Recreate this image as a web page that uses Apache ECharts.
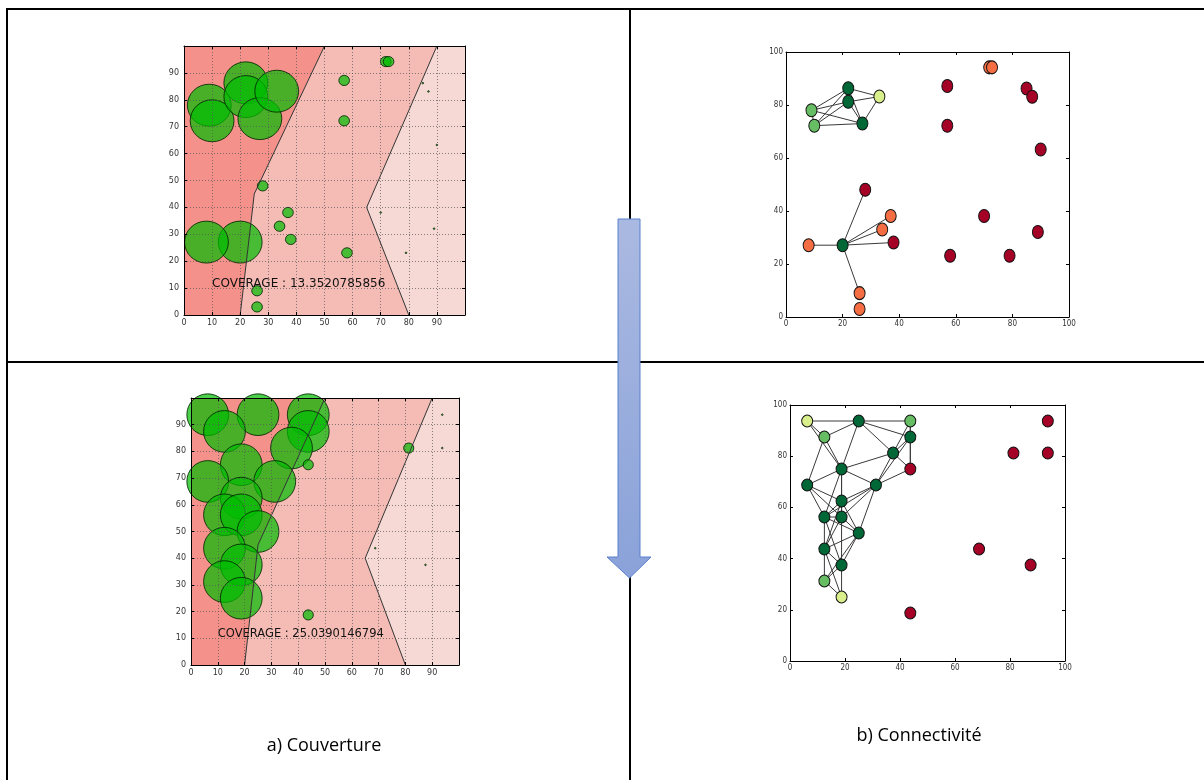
<!DOCTYPE html>
<html><head><meta charset="utf-8">
<script src="https://cdn.jsdelivr.net/npm/echarts@6/dist/echarts.min.js"></script>
<style>html,body{margin:0;padding:0;background:#fff}#c{width:1204px;height:780px}</style>
</head><body><div id="c"></div><script>
// ---------- DATA ----------
// Top scenario: node positions (shared by coverage and connectivity plots)
const topNodes = [[9,78],[10,72.2],[22,86.3],[22,81.2],[27,73],[33,83.2],[20,27.1],[8,27.1],
  [28,48],[37,38.1],[34,33],[38,28.1],[26,9],[26,3],[71.8,94.2],[72.8,94.2],[57,87.2],[57,72.2],
  [85,86.2],[87,83.1],[90,63.2],[70,38.1],[89,32.1],[58,23.1],[79,23.1]];
const topLevels = ['lg','lg','dg','dg','dg','yg','dg','or','rd','or','or','rd','or','or','or','or',
  'rd','rd','rd','rd','rd','rd','rd','rd','rd'];
const topRadius = [7.8,7.8,7.8,7.8,7.8,7.8,7.8,7.8,1.9,1.9,1.9,1.9,1.9,1.9,1.9,1.9,1.9,1.9,
  0.3,0.3,0.3,0.3,0.3,1.9,0.3];
const topEdges = [[0,1],[0,2],[0,3],[0,4],[1,2],[1,3],[1,4],[2,3],[2,4],[2,5],[3,4],[3,5],[4,5],
  [6,7],[6,8],[6,9],[6,10],[6,11],[6,12]];
const topCoverage = 'COVERAGE : 13.3520785856';

// Bottom scenario
const botNodes = [[6.25,93.75],[25,93.75],[43.75,93.75],[12.5,87.5],[43.75,87.5],[37.5,81.25],
  [43.75,75],[18.75,75],[6.25,68.75],[31.25,68.75],[18.75,62.5],[12.5,56.25],[18.75,56.25],
  [25,50],[12.5,43.75],[18.75,37.5],[12.5,31.25],[18.75,25],[43.75,18.75],[68.75,43.75],
  [87.5,37.5],[81.25,81.25],[93.75,93.75],[93.75,81.25]];
const botLevels = ['yg','dg','lg','lg','dg','dg','rd','dg','dg','dg','dg','dg','dg','dg','dg','dg',
  'lg','yg','rd','rd','rd','rd','rd','rd'];
const botRadius = [7.8,7.8,7.8,7.8,7.8,7.8,1.9,7.8,7.8,7.8,7.8,7.8,7.8,7.8,7.8,7.8,7.8,7.8,
  1.9,0.3,0.3,1.9,0.3,0.3];
const botEdges = [[0,1],[0,3],[0,7],[1,2],[1,3],[1,4],[1,5],[1,7],[2,4],[2,5],[2,6],[3,7],[3,8],
  [4,5],[4,6],[4,9],[5,6],[5,7],[5,9],[6,9],[7,8],[7,9],[7,10],[7,11],[7,12],[8,10],[8,11],[8,12],
  [9,10],[9,11],[9,12],[9,13],[10,11],[10,12],[10,13],[10,14],[11,12],[11,13],[11,14],[11,15],
  [12,13],[12,14],[12,15],[13,14],[13,15],[13,16],[14,15],[14,16],[14,17],[15,16],[15,17],[16,17]];
const botCoverage = 'COVERAGE : 25.0390146794';

// Coverage zone boundaries (shared)
const boundaryA = [[20,0],[25,45],[50,100]];
const boundaryB = [[80,0],[65,40],[90,100]];
const coverageLabelAt = [10, 11.6];

const xTicksCoverage = 10, xTicksConn = 20;
const captions = ['a) Couverture', 'b) Connectivité'];

// ---------- STYLE ----------
const levelColors = {dg:'#006837', lg:'#66bd63', yg:'#d9ef8b', or:'#f46d43', rd:'#a50026'};
const regionColors = ['#f4918a', '#f5bcb6', '#f6d8d5'];
const regions = [
  [[0,0]].concat(boundaryA, [[0,100]]),
  boundaryA.concat(boundaryB.slice().reverse()),
  boundaryB.concat([[100,100],[100,0]])
];

const grids = [
  {left:184, top:46, width:281, height:269},
  {left:786, top:52, width:283, height:265},
  {left:191, top:398, width:268, height:267},
  {left:790, top:405, width:275, height:256}
];

const xAxes = [], yAxes = [];
function addAxes(g, step, cov, fam) {
  const lab = {fontSize:8, color:'#333', fontFamily:fam, showMaxLabel:!cov};
  const common = {gridIndex:g, type:'value', min:0, max:100, interval:step, z: cov ? 5 : 0,
    axisLine:{show:true, onZero:false, lineStyle:{color:'#000', width:1}},
    axisTick:{show:true, inside:true, length:3, lineStyle:{color:'#000', width:1}}};
  const split = {show:cov, lineStyle:{color:'#555', type:[1,2], width:0.7}};
  xAxes.push(Object.assign({}, common, {position:'bottom', splitLine:split,
    axisLabel:Object.assign({margin: cov ? 4 : 3}, lab)}));
  xAxes.push(Object.assign({}, common, {position:'top', splitLine:{show:false}, axisLabel:{show:false}}));
  yAxes.push(Object.assign({}, common, {position:'left', splitLine:split,
    axisLabel:Object.assign({margin: cov ? 5 : 3}, lab)}));
  yAxes.push(Object.assign({}, common, {position:'right', splitLine:{show:false}, axisLabel:{show:false}}));
}
addAxes(0, xTicksCoverage, true, 'DejaVu Sans');
addAxes(1, xTicksConn, false, 'DejaVu Sans Condensed');
addAxes(2, xTicksCoverage, true, 'DejaVu Sans');
addAxes(3, xTicksConn, false, 'DejaVu Sans Condensed');

const series = [];
function coverageSeries(g, nodes, radius, text, fontSize) {
  const ai = 2*g;
  series.push({type:'custom', xAxisIndex:ai, yAxisIndex:ai, z:1, silent:true,
    data: regionColors.map((c,i)=>[i,0]),
    renderItem:(params, api)=>({type:'polygon',
      shape:{points: regions[params.dataIndex].map(p=>api.coord(p))},
      style:{fill: regionColors[params.dataIndex]}})});
  [boundaryA, boundaryB].forEach(b=>series.push({type:'line', xAxisIndex:ai, yAxisIndex:ai, z:3,
    data:b, showSymbol:false, silent:true, lineStyle:{color:'#333', width:1}}));
  series.push({type:'custom', xAxisIndex:ai, yAxisIndex:ai, z:2, silent:true,
    data: nodes.map((p,i)=>[p[0],p[1],radius[i]]),
    renderItem:(params, api)=>{
      const c = api.coord([api.value(0), api.value(1)]);
      const s = api.size([api.value(2), api.value(2)]);
      return {type:'ellipse', shape:{cx:c[0], cy:c[1], rx:s[0], ry:s[1]},
        style:{fill:'rgba(0,188,0,0.7)', stroke:'rgba(0,30,0,0.8)', lineWidth:1}};
    }});
  series.push({type:'custom', xAxisIndex:ai, yAxisIndex:ai, z:4, silent:true,
    data:[coverageLabelAt],
    renderItem:(params, api)=>{
      const c = api.coord([api.value(0), api.value(1)]);
      return {type:'text', x:c[0], y:c[1], style:{text:text, fill:'#111',
        font: fontSize + 'px "DejaVu Sans"', align:'left', verticalAlign:'middle',
        textAlign:'left', textVerticalAlign:'middle'}};
    }});
}
function connectivitySeries(g, nodes, levels, edges, size) {
  const ai = 2*g;
  series.push({type:'custom', xAxisIndex:ai, yAxisIndex:ai, z:2, silent:true,
    data: edges.map(e=>[nodes[e[0]][0], nodes[e[0]][1], nodes[e[1]][0], nodes[e[1]][1]]),
    renderItem:(params, api)=>{
      const a = api.coord([api.value(0), api.value(1)]);
      const b = api.coord([api.value(2), api.value(3)]);
      return {type:'line', shape:{x1:a[0], y1:a[1], x2:b[0], y2:b[1]},
        style:{stroke:'#3a3a3a', lineWidth:1}};
    }});
  series.push({type:'scatter', xAxisIndex:ai, yAxisIndex:ai, z:3, silent:true,
    symbol:'circle', symbolSize:size,
    data: nodes.map((p,i)=>({value:p, itemStyle:{color:levelColors[levels[i]],
      borderColor:'#111', borderWidth:1, opacity:1}}))});
}
coverageSeries(0, topNodes, topRadius, topCoverage, 12);
connectivitySeries(1, topNodes, topLevels, topEdges, [11,13]);
coverageSeries(2, botNodes, botRadius, botCoverage, 11.5);
connectivitySeries(3, botNodes, botLevels, botEdges, [11,12]);

const lineStyle = {stroke:'#000', lineWidth:2};
const graphic = [
  {type:'line', shape:{x1:6, y1:9, x2:1204, y2:9}, style:lineStyle, z:50},
  {type:'line', shape:{x1:7, y1:8, x2:7, y2:780}, style:lineStyle, z:50},
  {type:'line', shape:{x1:630, y1:8, x2:630, y2:780}, style:lineStyle, z:50},
  {type:'line', shape:{x1:7, y1:362, x2:1204, y2:362}, style:lineStyle, z:50},
  {type:'polygon', shape:{points:[[618,219],[640,219],[640,557],[651,557],[629.5,578],[607,557],[618,557]]},
    style:{fill:{type:'linear', x:0, y:0, x2:0, y2:1, colorStops:[{offset:0, color:'#aab9e1'},{offset:1, color:'#8aa2d9'}]},
      stroke:'#5b80cc', lineWidth:1}, z:100},
  {type:'text', x:324, y:746, style:{text:captions[0], font:'18px "Open Sans"', fill:'#000',
    align:'center', verticalAlign:'middle', textAlign:'center', textVerticalAlign:'middle'}, z:50},
  {type:'text', x:919, y:736, style:{text:captions[1], font:'18px "Open Sans"', fill:'#000',
    align:'center', verticalAlign:'middle', textAlign:'center', textVerticalAlign:'middle'}, z:50}
];

const chart = echarts.init(document.getElementById('c'), null, {renderer:'canvas'});
chart.setOption({animation:false, backgroundColor:'#fff', grid:grids, xAxis:xAxes, yAxis:yAxes,
  series:series, graphic:graphic});
</script></body></html>
